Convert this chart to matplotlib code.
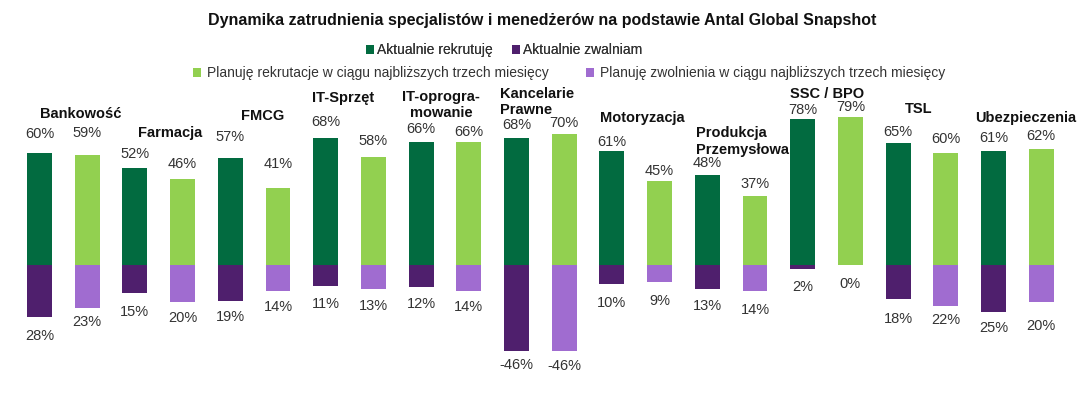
import numpy as np
import matplotlib.pyplot as plt

plt.rcParams['font.family'] = ['Liberation Sans', 'DejaVu Sans']

# data
categories = ["Bankowość", "Farmacja", "FMCG", "IT-Sprzęt", "IT-oprogra-\nmowanie",
              "Kancelarie\nPrawne", "Motoryzacja", "Produkcja\nPrzemysłowa",
              "SSC / BPO", "TSL", "Ubezpieczenia"]
rekrutuje = [60, 52, 57, 68, 66, 68, 61, 48, 78, 65, 61]
zwalniam = [-28, -15, -19, -11, -12, -46, -10, -13, -2, -18, -25]
plan_rekrutacja = [59, 46, 41, 58, 66, 70, 45, 37, 79, 60, 62]
plan_zwolnienia = [-23, -20, -14, -13, -14, -46, -9, -14, 0, -22, -20]
# labels below bars (source shows minus only for Kancelarie)
zwalniam_lbl = ["28%", "15%", "19%", "11%", "12%", "-46%", "10%", "13%", "2%", "18%", "25%"]
plan_zwol_lbl = ["23%", "20%", "14%", "13%", "14%", "-46%", "9%", "14%", "0%", "22%", "20%"]

legend_names = ["Aktualnie rekrutuję", "Aktualnie zwalniam",
                "Planuję rekrutacje w ciągu najbliższych trzech miesięcy",
                "Planuję zwolnienia w ciągu najbliższych trzech miesięcy"]

# label layout: category label placement (bar-index units, %), alignment
cat_pos = [(0.86, 81, 'center'), (2.74, 70.5, 'center'), (4.67, 79.5, 'center'),
           (6.36, 89.5, 'center'), (8.42, 85.5, 'center'), (9.66, 87, 'left'),
           (12.63, 78.5, 'center'), (13.76, 66, 'left'), (16.51, 91.5, 'center'),
           (18.44, 83.5, 'center'), (20.68, 78.5, 'center')]
# value label offsets in pixels (hand-placed in the source)
off_dark_top = [19, 14, 21, 16, 13, 13, 9, 12, 9, 11, 13]
off_light_top = [22, 15, 24, 16, 10, 11, 10, 12, 10, 14, 13]
off_dark_bot = [19, 19, 16, 18, 17, 14, 19, 17, 18, 20, 16]
off_light_bot = [14, 16, 16, 17, 16, 15, 19, 19, 19, 14, 24]

C_DG = '#026b40'
C_LG = '#92d050'
C_DP = '#4f1f6d'
C_LP = '#a06cd0'
TXT = '#333333'

fig = plt.figure(figsize=(10.85, 3.93), dpi=100)
W, H = 1085, 393
px_per = 1.87
zero_y = 265
ylo, yhi = -60, 100
bottom = (H - zero_y) - (-ylo) * px_per
height = (yhi - ylo) * px_per
left = 39.5 - 23.85
width = 22 * 47.7
ax = fig.add_axes([left / W, bottom / H, width / W, height / H])
ax.set_xlim(-0.5, 21.5)
ax.set_ylim(ylo, yhi)
ax.axis('off')

n = len(categories)
x_dark = np.arange(n) * 2
x_light = x_dark + 1
bw = 0.52

b1 = ax.bar(x_dark, rekrutuje, bw, color=C_DG)
b2 = ax.bar(x_dark, zwalniam, bw, color=C_DP)
b3 = ax.bar(x_light, plan_rekrutacja, bw, color=C_LG)
b4 = ax.bar(x_light, plan_zwolnienia, bw, color=C_LP)

def lbl(txt, x, y, dy):
    ax.annotate(txt, (x, y), xytext=(0, dy), textcoords='offset pixels',
                ha='center', va='center', fontsize=10.5, color=TXT)

for i in range(n):
    lbl(f"{rekrutuje[i]}%", x_dark[i], rekrutuje[i], off_dark_top[i])
    lbl(f"{plan_rekrutacja[i]}%", x_light[i], plan_rekrutacja[i], off_light_top[i])
    lbl(zwalniam_lbl[i], x_dark[i], zwalniam[i], -off_dark_bot[i])
    lbl(plan_zwol_lbl[i], x_light[i], plan_zwolnienia[i], -off_light_bot[i])

for name, (cx, cy, ha) in zip(categories, cat_pos):
    ax.text(cx, cy, name, ha=ha, va='center', fontsize=10.5, fontweight='bold',
            color='#111111', linespacing=1.2, multialignment=ha)

fig.text(0.5, 1 - 20 / H, "Dynamika zatrudnienia specjalistów i menedżerów na podstawie Antal Global Snapshot",
         ha='center', va='center', fontsize=11.5, fontweight='bold', color='#111111')

leg1 = fig.legend([b1, b2], legend_names[:2], loc='center', bbox_to_anchor=(504 / W, 1 - 50 / H),
                  ncol=2, frameon=False, fontsize=10, handlelength=0.6, handleheight=0.6,
                  handletextpad=0.2, columnspacing=1.4, labelcolor=TXT)
leg2 = fig.legend([b3, b4], legend_names[2:], loc='center', bbox_to_anchor=(569 / W, 1 - 73 / H),
                  ncol=2, frameon=False, fontsize=10, handlelength=0.6, handleheight=0.6,
                  handletextpad=0.4, columnspacing=2.7, labelcolor=TXT)
fig.add_artist(leg1)

fig.savefig('out.png', dpi=100)
